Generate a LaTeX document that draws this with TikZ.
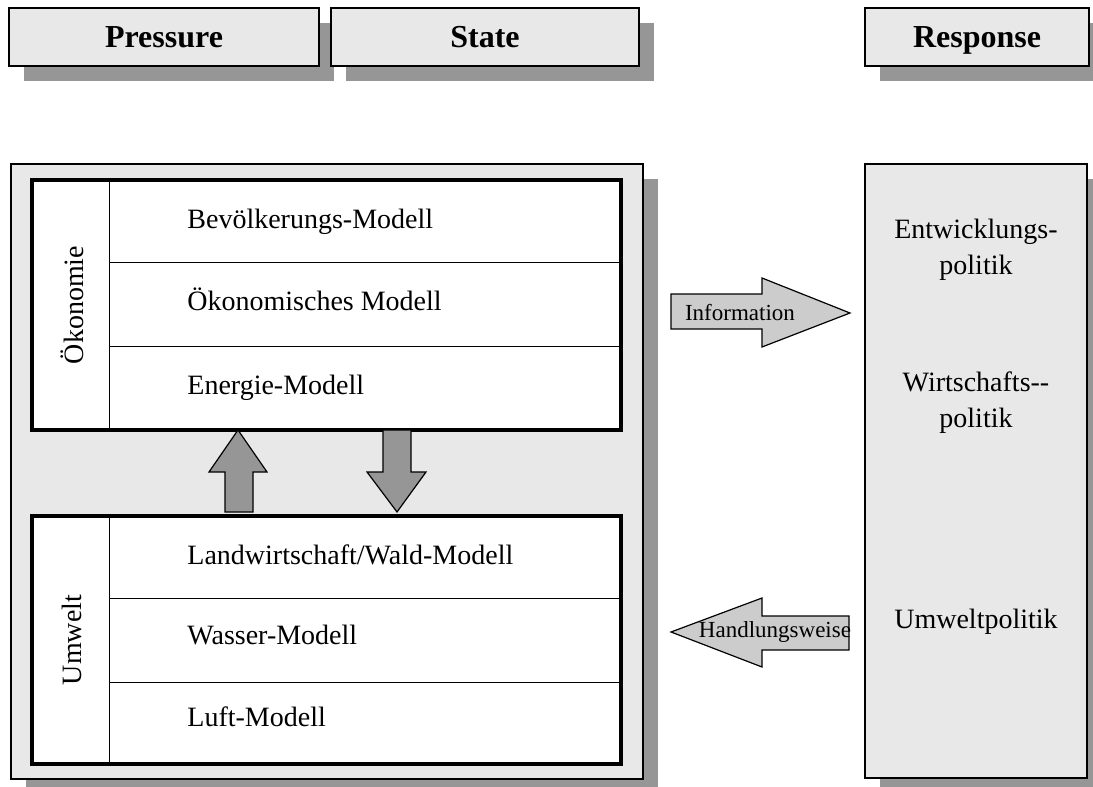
\documentclass[tikz,border=0pt]{standalone}
\usepackage{fontspec}
\setmainfont{Liberation Serif}
\usetikzlibrary{shadows}
\definecolor{panelgray}{HTML}{E8E8E8}
\definecolor{shadowgray}{HTML}{969696}
\definecolor{arrowlight}{HTML}{CCCCCC}

\begin{document}
\begin{tikzpicture}[x=0.5pt, y=-0.5pt,
    shadowed/.style={drop shadow={shadow xshift=7.5pt, shadow yshift=-7.5pt, fill=shadowgray, opacity=1}},
    header/.style={draw, line width=1pt, fill=panelgray, shadowed, inner sep=0pt, minimum height=29pt, text height=11pt, text depth=0.5pt, font=\fontsize{16}{19}\selectfont\bfseries},
    panel/.style={draw, line width=1pt, fill=panelgray, shadowed, inner sep=0pt},
    group/.style={draw, line width=1.6pt, fill=white, inner sep=0pt, minimum width=294.5pt},
    rule/.style={line width=0.5pt},
    model/.style={anchor=west, inner sep=0pt, text height=10pt, text depth=3pt, font=\fontsize{14}{17}\selectfont},
    sidelabel/.style={rotate=90, inner sep=0pt, font=\fontsize{14}{17}\selectfont},
    policy/.style={align=center, inner sep=0pt, font=\fontsize{14}{18}\selectfont},
    bigarrow/.style={draw, line width=0.6pt, fill=shadowgray},
    flowarrow/.style={draw, line width=0.6pt, fill=arrowlight},
    flowlabel/.style={inner sep=0pt, font=\fontsize{11.5}{14}\selectfont}
]
\useasboundingbox (0,0) rectangle (1093,787);
\clip (0,0) rectangle (1093,787);

% headers
\node[header, minimum width=155pt] (pressure) at (164,37) {Pressure};
\node[header, minimum width=154pt] (state) at (485,37) {State};
\node[header, minimum width=112pt] (response) at (977,37) {Response};

% panels
\node[panel, minimum width=316pt, minimum height=307.5pt] (pbox) at (327,471.5) {};
\node[panel, minimum width=111pt, minimum height=307pt] (rbox) at (976,471) {};

% model groups
\node[group, minimum height=125pt] (oek) at (326.5,305) {};
\node[group, minimum height=124pt] (umw) at (326.5,640) {};
\draw[rule] (109,180) -- (109,430);
\draw[rule] (109,516) -- (109,764);
\foreach \y in {262,346,598,682}
    \draw[rule] (109,\y) -- (621,\y);

\node[sidelabel] (oeklabel) at (72,305) {Ökonomie};
\node[sidelabel] (umwlabel) at (72,640) {Umwelt};

\node[model] (bev) at (187,221) {Bevölkerungs-Modell};
\node[model] (oekm) at (187,303) {Ökonomisches Modell};
\node[model] (ener) at (187,387) {Energie-Modell};
\node[model] (land) at (187,557) {Landwirtschaft/Wald-Modell};
\node[model] (wass) at (187,637) {Wasser-Modell};
\node[model] (luft) at (187,719) {Luft-Modell};

% arrows between groups
\draw[bigarrow] (225,512) -- (225,472) -- (209,472) -- (238,430) -- (267,472) -- (253,472) -- (253,512) -- cycle;
\draw[bigarrow] (383,430) -- (411,430) -- (411,472) -- (426,472) -- (397,512) -- (367,472) -- (383,472) -- cycle;

% flows
\draw[flowarrow] (671,294) -- (762,294) -- (762,278) -- (850,313) -- (762,347) -- (762,329) -- (671,329) -- cycle;
\node[flowlabel] (info) at (740,313) {Information};
\draw[flowarrow] (849,616) -- (762,616) -- (762,598) -- (671,632) -- (762,667) -- (762,650) -- (849,650) -- cycle;
\node[flowlabel] (hand) at (775,632) {Handlungsweise};

% policies
\node[policy] (entw) at (976,250) {Entwicklungs-\\politik};
\node[policy] (wirt) at (976,403) {Wirtschafts-{}-\\politik};
\node[policy] (umwp) at (976,622) {Umweltpolitik};
\end{tikzpicture}
\end{document}
